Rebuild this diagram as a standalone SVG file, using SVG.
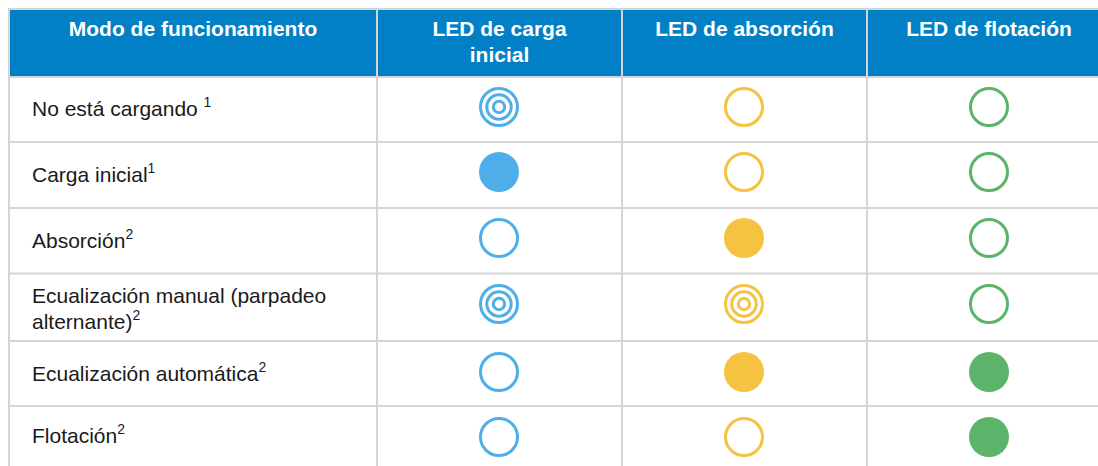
<svg xmlns="http://www.w3.org/2000/svg" width="1098" height="466" viewBox="0 0 1098 466">
<style>
.hd{font-family:"Liberation Sans",Arial,sans-serif;font-size:21px;font-weight:bold;fill:#ffffff;text-anchor:middle}
.tx{font-family:"Liberation Sans",Arial,sans-serif;font-size:21px;fill:#1a1a1a}
.sup{font-size:14px}
.grid{stroke:#d5d5d5;stroke-width:2;fill:none}
.ob{fill:none;stroke:#4faeea;stroke-width:3}
.oy{fill:none;stroke:#f5c242;stroke-width:3}
.og{fill:none;stroke:#5bb46a;stroke-width:3}
.fb{fill:#4faeea}
.fy{fill:#f5c242}
.fg{fill:#5bb46a}
</style>
<defs>
<g id="ringB"><circle r="18.5" class="ob"/><circle r="12.2" class="ob"/><circle r="5.7" class="ob"/></g>
<g id="ringY"><circle r="18.5" class="oy"/><circle r="12.2" class="oy"/><circle r="5.7" class="oy"/></g>
</defs>
<rect x="0" y="0" width="1098" height="466" fill="#ffffff"/>
<rect x="9" y="9" width="1100" height="68" fill="#0180c6"/>
<g id="grid">
<line class="grid" x1="8" y1="9" x2="1098" y2="9"/>
<line class="grid" x1="8" y1="77" x2="1098" y2="77"/>
<line class="grid" x1="8" y1="142" x2="1098" y2="142"/>
<line class="grid" x1="8" y1="208" x2="1098" y2="208"/>
<line class="grid" x1="8" y1="273.5" x2="1098" y2="273.5"/>
<line class="grid" x1="8" y1="341" x2="1098" y2="341"/>
<line class="grid" x1="8" y1="406" x2="1098" y2="406"/>
<line class="grid" x1="9" y1="8" x2="9" y2="466"/>
<line class="grid" x1="377" y1="8" x2="377" y2="466"/>
<line class="grid" x1="622" y1="8" x2="622" y2="466"/>
<line class="grid" x1="867" y1="8" x2="867" y2="466"/>
</g>
<g id="header">
<text class="hd" x="193" y="36">Modo de funcionamiento</text>
<text class="hd" x="499.5" y="36">LED de carga</text>
<text class="hd" x="499.5" y="62">inicial</text>
<text class="hd" x="744.5" y="36">LED de absorción</text>
<text class="hd" x="989" y="36">LED de flotación</text>
</g>
<g id="row1">
<text class="tx" x="32" y="116">No está cargando <tspan class="sup" dy="-9">1</tspan></text>
<use href="#ringB" x="499" y="107"/>
<circle cx="744" cy="107" r="18.5" class="oy"/>
<circle cx="989" cy="107" r="18.5" class="og"/>
</g>
<g id="row2">
<text class="tx" x="32" y="182">Carga inicial<tspan class="sup" dy="-9">1</tspan></text>
<circle cx="499" cy="172" r="20" class="fb"/>
<circle cx="744" cy="172" r="18.5" class="oy"/>
<circle cx="989" cy="172" r="18.5" class="og"/>
</g>
<g id="row3">
<text class="tx" x="32" y="248">Absorción<tspan class="sup" dy="-9">2</tspan></text>
<circle cx="499" cy="238" r="18.5" class="ob"/>
<circle cx="744" cy="238" r="20" class="fy"/>
<circle cx="989" cy="238" r="18.5" class="og"/>
</g>
<g id="row4">
<text class="tx" x="32" y="303">Ecualización manual (parpadeo</text>
<text class="tx" x="32" y="329">alternante)<tspan class="sup" dy="-9">2</tspan></text>
<use href="#ringB" x="499" y="304"/>
<use href="#ringY" x="744" y="304"/>
<circle cx="989" cy="304" r="18.5" class="og"/>
</g>
<g id="row5">
<text class="tx" x="32" y="381">Ecualización automática<tspan class="sup" dy="-9">2</tspan></text>
<circle cx="499" cy="372" r="18.5" class="ob"/>
<circle cx="744" cy="372" r="20" class="fy"/>
<circle cx="989" cy="372" r="20" class="fg"/>
</g>
<g id="row6">
<text class="tx" x="32" y="443">Flotación<tspan class="sup" dy="-9">2</tspan></text>
<circle cx="499" cy="437" r="18.5" class="ob"/>
<circle cx="744" cy="437" r="18.5" class="oy"/>
<circle cx="989" cy="437" r="20" class="fg"/>
</g>
</svg>
